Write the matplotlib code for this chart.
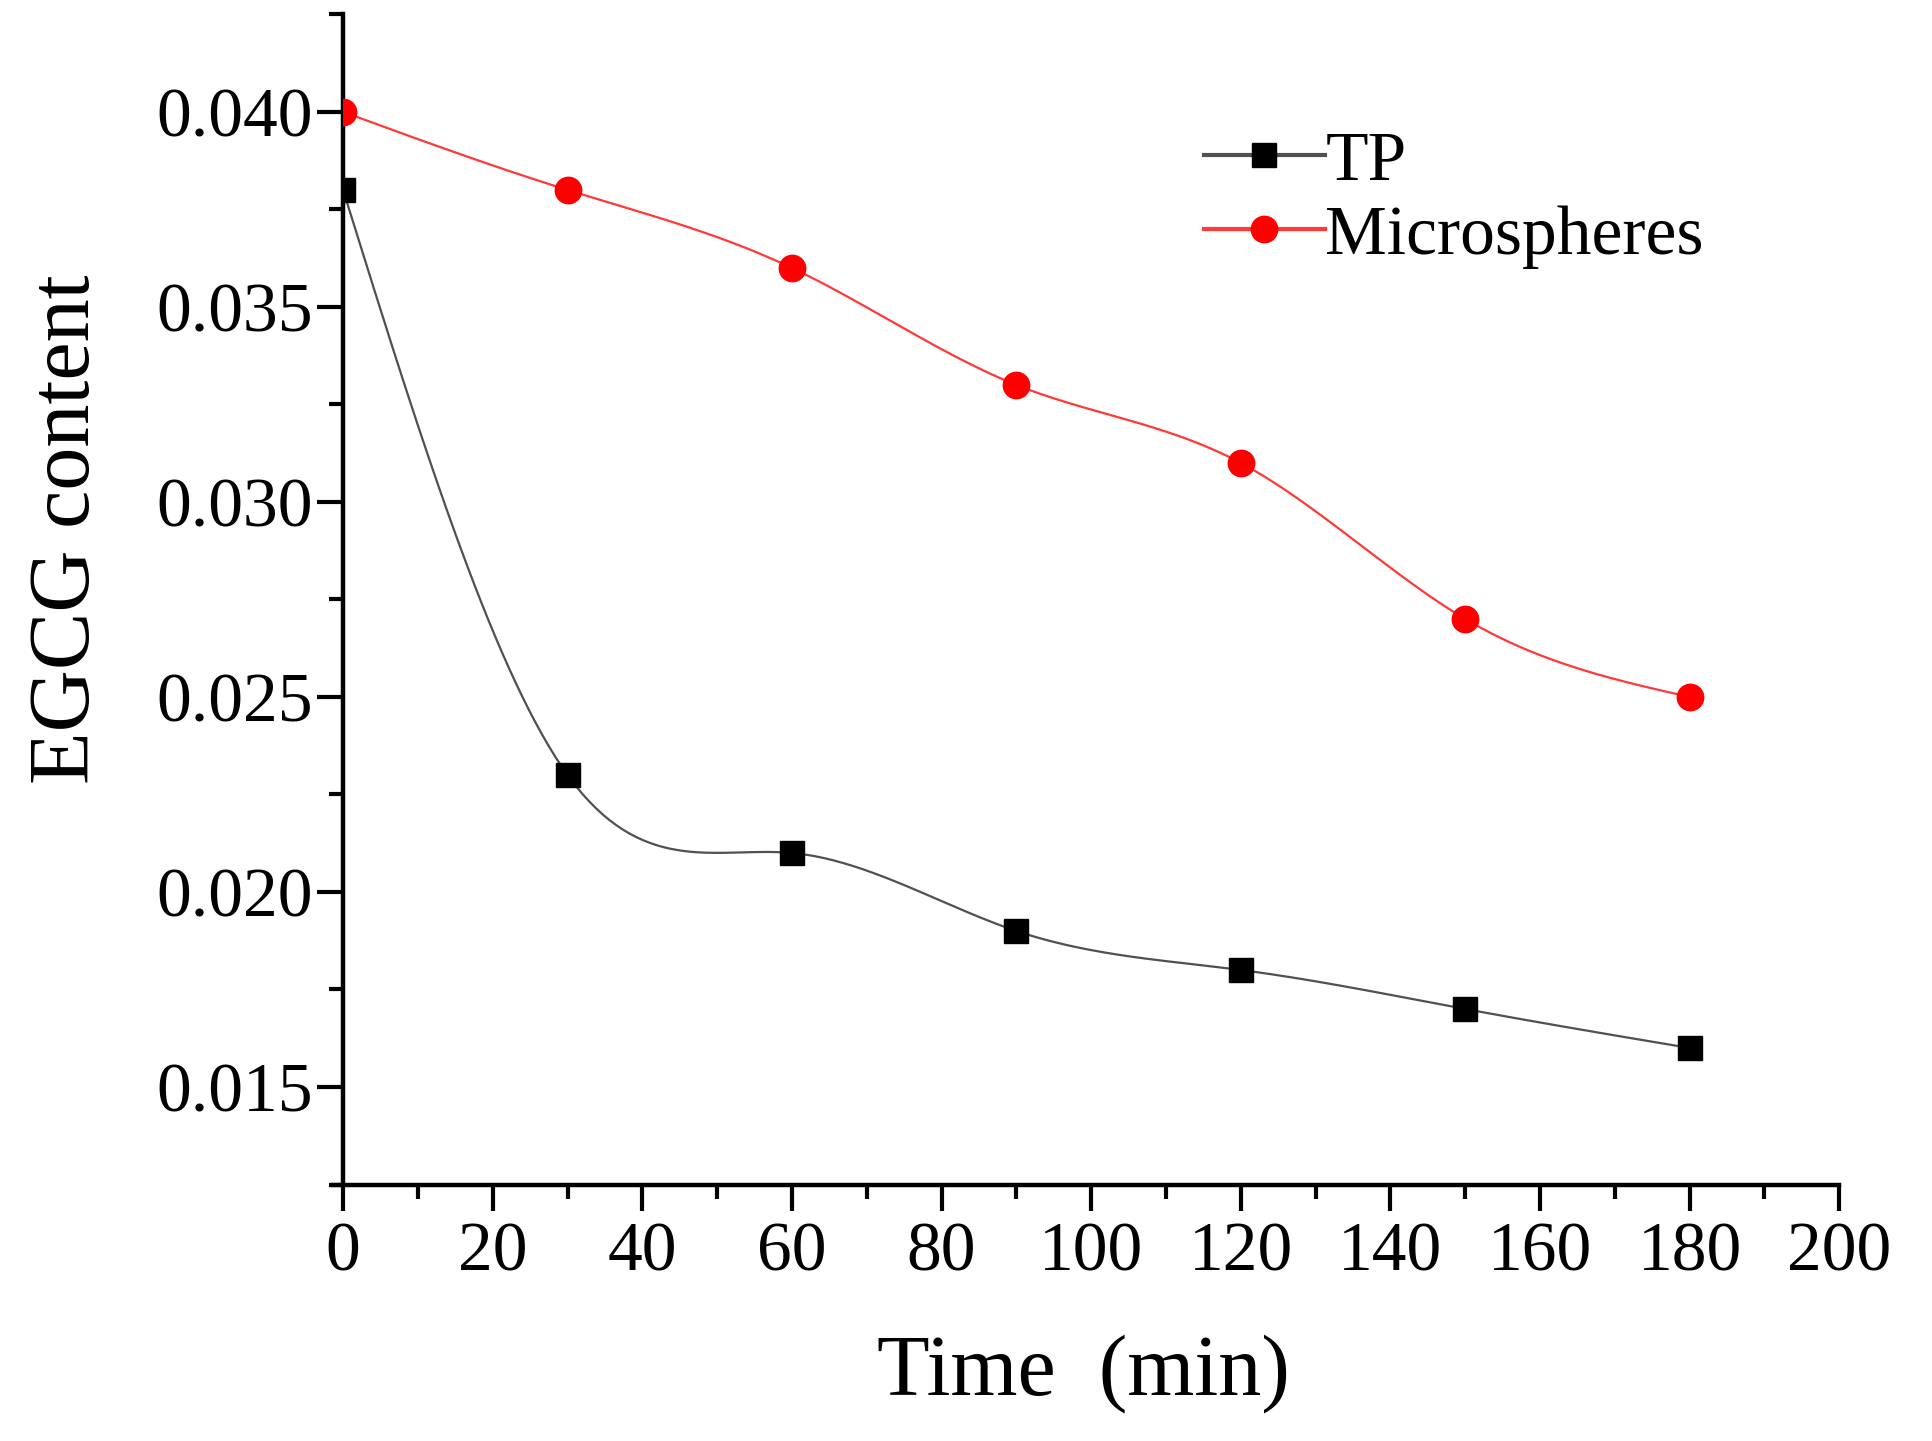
import matplotlib
matplotlib.use("Agg")
import matplotlib.pyplot as plt
import numpy as np
from matplotlib.ticker import MultipleLocator, FormatStrFormatter

# sampling times (min)
time_min = [0, 30, 60, 90, 120, 150, 180]
# EGCG content
tp_vals = [0.038, 0.023, 0.021, 0.019, 0.018, 0.017, 0.016]
micro_vals = [0.040, 0.038, 0.036, 0.033, 0.031, 0.027, 0.025]

x_ticks = [0, 20, 40, 60, 80, 100, 120, 140, 160, 180, 200]
y_ticks = [0.015, 0.020, 0.025, 0.030, 0.035, 0.040]


#natural cubic spline through the points, used only to draw the connecting line
def spline_line(x, y, n=400):
    x = np.asarray(x, float)
    y = np.asarray(y, float)
    k = len(x)
    h = np.diff(x)
    A = np.zeros((k, k))
    b = np.zeros(k)
    A[0, 0] = 1
    A[-1, -1] = 1
    for i in range(1, k - 1):
        A[i, i - 1] = h[i - 1]
        A[i, i] = 2 * (h[i - 1] + h[i])
        A[i, i + 1] = h[i]
        b[i] = 6 * ((y[i + 1] - y[i]) / h[i] - (y[i] - y[i - 1]) / h[i - 1])
    m = np.linalg.solve(A, b)
    xs = np.linspace(x[0], x[-1], n)
    idx = np.clip(np.searchsorted(x, xs) - 1, 0, k - 2)
    x0, x1 = x[idx], x[idx + 1]
    hh = x1 - x0
    t0, t1 = x1 - xs, xs - x0
    ys = (m[idx] * t0**3 + m[idx + 1] * t1**3) / (6 * hh) \
        + (y[idx] / hh - m[idx] * hh / 6) * t0 \
        + (y[idx + 1] / hh - m[idx + 1] * hh / 6) * t1
    return xs, ys


plt.rcParams['font.family'] = ['Liberation Serif', 'DejaVu Serif']

fig = plt.figure(figsize=(19.33, 14.41), dpi=100)
ax = fig.add_axes([0.1775, 0.178, 0.774, 0.812])

tp_line = '#505050'
red_line = '#ff3838'

xs, ys = spline_line(time_min, tp_vals)
ax.plot(xs, ys, color=tp_line, lw=1.6, zorder=2)
ax.plot(time_min, tp_vals, ls='none', marker='s', ms=17, color='black', zorder=3)

xs, ys = spline_line(time_min, micro_vals)
ax.plot(xs, ys, color=red_line, lw=1.6, zorder=2)
ax.plot(time_min, micro_vals, ls='none', marker='o', ms=19, color='#ff0000', zorder=3)

# legend handles
ax.plot([], [], color=tp_line, lw=3, marker='s', ms=17, mfc='black', mec='black', label='TP')
ax.plot([], [], color=red_line, lw=3, marker='o', ms=19, mfc='#ff0000', mec='#ff0000', label='Microspheres')
ax.legend(loc='upper left', bbox_to_anchor=(0.552, 0.93), frameon=False, fontsize=50,
          handlelength=1.75, handletextpad=0.0, labelspacing=0.15, borderpad=0)

ax.set_xlim(0, 200)
ax.set_ylim(0.0125, 0.0425)
ax.set_xticks(x_ticks)
ax.set_yticks(y_ticks)
ax.xaxis.set_minor_locator(MultipleLocator(10))
ax.yaxis.set_minor_locator(MultipleLocator(0.0025))
ax.yaxis.set_major_formatter(FormatStrFormatter('%.3f'))

for s in ['top', 'right']:
    ax.spines[s].set_visible(False)
for s in ['left', 'bottom']:
    ax.spines[s].set_linewidth(3.2)
ax.spines['bottom'].set_bounds(-1.3, 200)

ax.tick_params(which='major', direction='out', length=19, width=3, labelsize=50)
ax.tick_params(which='minor', direction='out', length=10, width=3)
ax.tick_params(axis='x', pad=8)
ax.tick_params(axis='y', pad=3)

ax.set_xlabel('Time  (min)', fontsize=62)
ax.set_ylabel('EGCG content', fontsize=62)
ax.xaxis.set_label_coords(0.495, -0.128)
ax.yaxis.set_label_coords(-0.157, 0.56)

fig.savefig('out.png', dpi=100)
